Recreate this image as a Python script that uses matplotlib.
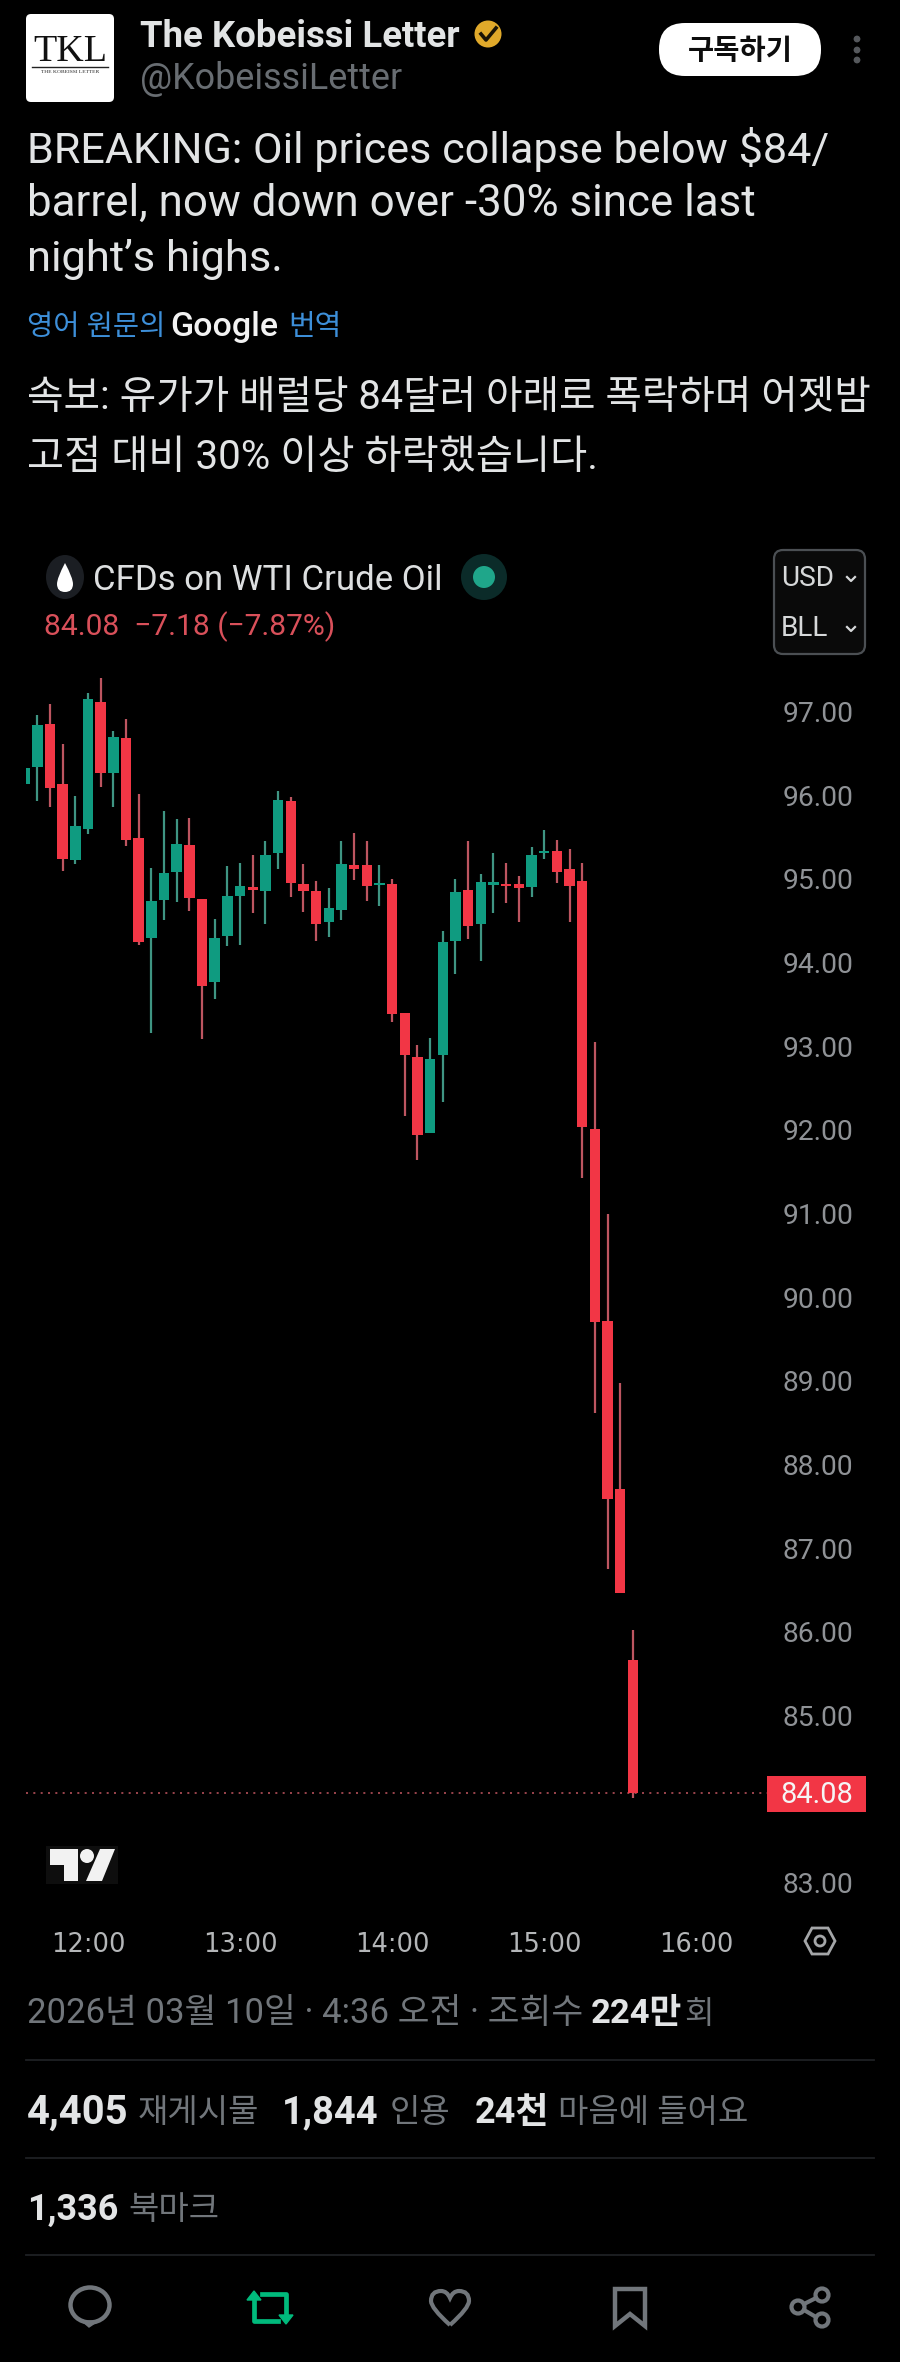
import matplotlib
matplotlib.use('Agg')
import matplotlib.pyplot as plt
from matplotlib.patches import Circle, Ellipse, FancyBboxPatch, PathPatch, Polygon, Rectangle
from matplotlib.path import Path

# price data, one entry per 5 minute candle
opens = [96.13, 96.34, 96.85, 96.13, 95.23, 95.60, 97.11, 96.26, 96.68, 95.49,
         94.29, 94.75, 95.08, 95.40, 94.76, 93.77, 94.32, 94.79, 94.90, 94.85,
         95.31, 95.93, 94.94, 94.85, 94.49, 94.63, 95.16, 95.17, 94.93, 94.94,
         93.40, 92.87, 91.96, 92.89, 94.26, 94.87, 94.46, 94.93, 94.94, 94.94,
         94.90, 95.31, 95.33, 95.12, 94.97, 92.01, 89.72, 87.71, 85.66]
highs = [96.33, 96.96, 97.09, 96.61, 95.99, 97.22, 97.40, 96.77, 96.91, 96.01,
         95.13, 95.81, 95.72, 95.73, 94.76, 94.52, 95.15, 95.19, 95.28, 95.45,
         96.05, 95.98, 95.18, 94.97, 94.89, 95.45, 95.55, 95.45, 95.16, 95.00,
         93.40, 93.01, 93.10, 94.38, 95.00, 95.45, 95.06, 95.31, 95.19, 95.03,
         95.38, 95.58, 95.47, 95.36, 95.19, 93.05, 91.00, 88.98, 86.02]
lows = [96.13, 95.93, 95.86, 95.09, 95.18, 95.53, 96.10, 95.86, 95.39, 94.21,
        93.16, 94.51, 94.72, 94.61, 93.08, 93.56, 94.20, 94.21, 94.59, 94.46,
        95.12, 94.78, 94.60, 94.26, 94.30, 94.51, 94.99, 94.74, 94.67, 93.29,
        92.17, 91.64, 91.96, 92.33, 93.86, 94.28, 94.02, 94.59, 94.71, 94.49,
        94.78, 95.24, 94.95, 94.48, 91.43, 88.62, 86.75, 86.47, 84.01]
closes = [96.33, 96.84, 96.09, 95.24, 95.63, 97.15, 96.27, 96.70, 95.47, 94.25,
          94.73, 95.07, 95.42, 94.77, 93.72, 94.29, 94.79, 94.92, 94.87, 95.28,
          95.94, 94.95, 94.86, 94.46, 94.65, 95.18, 95.12, 94.92, 94.95, 93.38,
          92.89, 91.94, 92.85, 94.24, 94.84, 94.44, 94.96, 94.96, 94.91, 94.89,
          95.28, 95.33, 95.08, 94.91, 92.04, 89.70, 87.59, 86.47, 84.08]
last_price = 84.08
price_ticks = [97, 96, 95, 94, 93, 92, 91, 90, 89, 88, 87, 86, 85, 83]
time_ticks = [5, 17, 29, 41, 53]
time_labels = ['12:00', '13:00', '14:00', '15:00', '16:00']

W, H = 900, 2362
RED = '#f23645'
GREEN = '#0f9b80'
TXT = '#e2e4e5'
GRAY = '#71767b'
LATIN_KR = ['Roboto', 'Noto Sans CJK KR']

fig = plt.figure(figsize=(W / 100, H / 100), dpi=100, facecolor='black')

# chart axes, placed on the screenshot pixels
left, right, top, bottom = 26, 770, 660, 1925
ax = fig.add_axes([left / W, 1 - bottom / H, (right - left) / W, (bottom - top) / H], facecolor='black')
ax.set_xlim((left - 24.7) / 12.67, (right - 24.7) / 12.67)
ax.set_ylim(97 - (bottom - 711.5) / 83.67, 97 - (top - 711.5) / 83.67)
for s in ax.spines.values():
    s.set_visible(False)

for i in range(len(opens)):
    up = closes[i] >= opens[i]
    ax.vlines(i, lows[i], highs[i], color='#3f9583' if up else '#bd5560', lw=1.6, zorder=2)
    ax.bar(i, abs(closes[i] - opens[i]), bottom=min(opens[i], closes[i]), width=0.83,
           color=GREEN if up else RED, zorder=3)

ax.axhline(last_price, color='#b5505a', lw=1.2, ls=(0, (1.2, 3.2)), zorder=1)
ax.yaxis.tick_right()
ax.set_yticks(price_ticks)
ax.set_yticklabels(['%.2f' % p for p in price_ticks])
ax.tick_params(axis='y', length=0, pad=9, labelsize=20.3, labelcolor='#8f9296')
ax.set_xticks(time_ticks)
ax.set_xticklabels(time_labels)
ax.tick_params(axis='x', length=0, pad=5, labelsize=18.5, labelcolor='#b4b6b8')
for lab in ax.get_yticklabels():
    lab.set_family('Roboto')
for lab in ax.get_xticklabels():
    lab.set_family('DejaVu Sans')

# everything around the chart, in screenshot pixels
ui = fig.add_axes([0, 0, 1, 1], facecolor='none')
ui.set_xlim(0, W)
ui.set_ylim(H, 0)
ui.axis('off')


def put(x, y, s, px, color=TXT, weight='normal', ha='left', family=None):
    ui.text(x, y, s, fontsize=px * 0.72, color=color, fontweight=weight, ha=ha, va='center',
            family=family or LATIN_KR)


def box(x0, y0, x1, y1, r, **kw):
    ui.add_patch(FancyBboxPatch((x0 + r, y0 + r), x1 - x0 - 2 * r, y1 - y0 - 2 * r,
                                boxstyle='round,pad=%s,rounding_size=%s' % (r, r), **kw))


# header
box(26, 14, 114, 102, 5, fc='white', ec='none')
put(70, 52, 'TKL', 38, color='#111111', ha='center', family='Liberation Serif')
ui.plot([32, 108], [67, 67], color='#222222', lw=1)
put(70, 72, 'THE KOBEISSI LETTER', 5.5, color='#222222', ha='center', family='Liberation Serif')
put(140, 37, 'The Kobeissi Letter', 36.5, weight='bold')
ui.add_patch(Circle((488, 34), 13.5, fc='#e0a92a', ec='none'))
ui.plot([481, 486, 496], [34, 40, 28], color='#1a1405', lw=2.6)
put(140, 79, '@KobeissiLetter', 35.9, color='#686d72')
box(659, 23, 821, 76, 26, fc='white', ec='none')
put(740, 51, '구독하기', 28.5, color='#0d0d0d', weight='bold', ha='center')
for yy in [39, 50, 60]:
    ui.add_patch(Circle((857, yy), 3.4, fc='#55585c', ec='none'))

# tweet text
put(27, 150, 'BREAKING: Oil prices collapse below $84/', 43.1)
put(27, 204, 'barrel, now down over -30% since last', 43.9)
put(27, 259, 'night’s highs.', 43.5)
put(27, 327, '영어 원문의', 28.5, color='#3d8fd9')
put(170, 327, 'Google', 34, color='#f2f2f2', weight='medium')
put(288, 327, '번역', 29, color='#3d8fd9')
put(27, 397, '속보: 유가가 배럴당 84달러 아래로 폭락하며 어젯밤', 39.7)
put(27, 457, '고점 대비 30% 이상 하락했습니다.', 40.3)

# chart legend
ui.add_patch(Ellipse((65, 577), 38, 44, fc='#1b1e23', ec='none'))
drop = Path([(65, 563), (57, 578), (57, 584), (57, 592), (65, 592), (73, 592), (73, 584), (73, 578), (65, 563)],
            [Path.MOVETO, Path.CURVE3, Path.CURVE3, Path.CURVE3, Path.CURVE3, Path.CURVE3, Path.CURVE3,
             Path.CURVE3, Path.CURVE3])
ui.add_patch(PathPatch(drop, fc='white', ec='none'))
put(93, 580, 'CFDs on WTI Crude Oil', 34.8, color='#dddfe0')
ui.add_patch(Ellipse((484, 577), 46, 46, fc='#0b2b29', ec='none'))
ui.add_patch(Ellipse((484, 577), 22, 22, fc='#1fa68a', ec='none'))
put(44, 627, '84.08  −7.18 (−7.87%)', 30, color='#d9505a')
box(774, 550, 865, 654, 9, fc='#0a0a0a', ec='#4b4f53', lw=1.6)
put(781, 579, 'USD', 28, color='#d6d8d9')
put(781, 629, 'BLL', 28, color='#d6d8d9')
for yy in [579, 629]:
    ui.plot([847, 851, 855], [yy - 2, yy + 2, yy - 2], color='#d6d8d9', lw=1.6)

# last price tag
ui.add_patch(Rectangle((767, 1776), 99, 36, fc=RED, ec='none'))
put(817, 1795, '%.2f' % last_price, 29, color='#f5f5f5', ha='center')

# tradingview logo
ui.add_patch(Rectangle((46, 1846), 72, 38, fc='#0e0e0e', ec='none'))
ui.add_patch(Polygon([(50, 1849), (78, 1849), (78, 1881), (64, 1881), (64, 1865), (50, 1865)], fc='#f2f2f2', ec='none'))
ui.add_patch(Circle((87, 1856), 7, fc='#f2f2f2', ec='none'))
ui.add_patch(Polygon([(100, 1849), (115, 1849), (102, 1881), (86, 1881)], fc='#f2f2f2', ec='none'))

# settings hexagon
ui.add_patch(Polygon([(805, 1941), (812, 1928), (828, 1928), (835, 1941), (828, 1954), (812, 1954)],
                     fc='none', ec='#a4a6a8', lw=2))
ui.add_patch(Circle((820, 1941), 5, fc='none', ec='#a4a6a8', lw=2))

# footer text
put(27, 2014, '2026년 03월 10일 · 4:36 오전 · 조회수', 34.6, color=GRAY)
put(591, 2014, '224만', 34.5, weight='bold')
put(684, 2014, '회', 32, color=GRAY)
for yy in [2060, 2157.5, 2254.5]:
    ui.plot([26, 874], [yy, yy], color='#1f2124', lw=1.3)
put(27, 2113, '4,405', 40, weight='bold')
put(282, 2113, '1,844', 38, weight='bold')
put(475, 2113, '24천', 36, weight='bold')
for x, s in [(138, '재게시물'), (390, '인용'), (558, '마음에 들어요')]:
    put(x, 2113, s, 33, color=GRAY)
put(27, 2210, '1,336', 36, weight='bold')
put(128, 2210, '북마크', 33, color=GRAY)

# action bar icons
ui.add_patch(Ellipse((90, 2305), 39, 35, fc='none', ec=GRAY, lw=3.2))
ui.add_patch(Polygon([(82, 2321), (98, 2321), (89, 2327)], fc=GRAY, ec=GRAY, lw=1))
ui.plot([262, 286, 286], [2294, 2294, 2318], color='#00ba7c', lw=3.4)
ui.plot([278, 254, 254], [2321, 2321, 2297], color='#00ba7c', lw=3.4)
ui.add_patch(Polygon([(247, 2300), (254, 2291), (261, 2300)], fc='#00ba7c', ec='#00ba7c'))
ui.add_patch(Polygon([(279, 2315), (286, 2324), (293, 2315)], fc='#00ba7c', ec='#00ba7c'))
heart = Path([(450, 2325), (431, 2308), (431, 2301), (431, 2291), (441, 2291), (447, 2291), (450, 2298),
              (453, 2291), (459, 2291), (469, 2291), (469, 2301), (469, 2308), (450, 2325)],
             [Path.MOVETO, Path.CURVE3, Path.CURVE3, Path.CURVE3, Path.CURVE3, Path.CURVE3, Path.CURVE3,
              Path.CURVE3, Path.CURVE3, Path.CURVE3, Path.CURVE3, Path.CURVE3, Path.CURVE3])
ui.add_patch(PathPatch(heart, fc='none', ec=GRAY, lw=3))
ui.add_patch(Polygon([(615, 2289), (645, 2289), (645, 2326), (630, 2314), (615, 2326)], fc='none', ec=GRAY, lw=3.2))
for cx, cy in [(822, 2295), (798, 2307), (822, 2320)]:
    ui.add_patch(Circle((cx, cy), 6.5, fc='none', ec=GRAY, lw=3))
ui.plot([816, 804], [2298, 2304], color=GRAY, lw=3)
ui.plot([804, 816], [2310, 2317], color=GRAY, lw=3)

fig.savefig('out.png', dpi=100, facecolor='black')
